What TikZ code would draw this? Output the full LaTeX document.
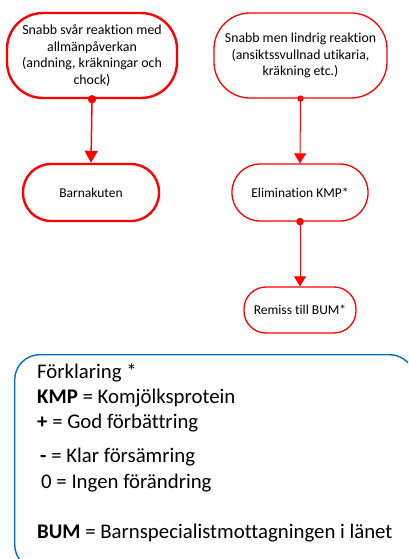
\documentclass[tikz,border=0pt]{standalone}
\usepackage{fontspec}
\setmainfont{Carlito}[Ligatures=NoCommon]
\usetikzlibrary{arrows.meta,positioning}

\definecolor{legendblue}{RGB}{0,112,192}

\tikzset{
  flowbox/.style={draw=red, rounded corners=#1, align=center, inner sep=2pt,
    font=\fontsize{13.5}{16.5}\selectfont},
  thickbox/.style={flowbox=#1, line width=2.4pt},
  thinbox/.style={flowbox=#1, line width=1.3pt},
  flowarrow/.style={draw=red, -{Triangle[width=13pt,length=12pt]}},
  legendframe/.style={draw=legendblue, line width=1.4pt, rounded corners=25pt,
    minimum width=400pt, minimum height=215pt, inner sep=0pt},
  legendtext/.style={align=left, inner sep=0pt, font=\fontsize{20.8}{25}\selectfont}
}

\begin{document}
\begin{tikzpicture}[x=1pt,y=-1pt]
  \useasboundingbox (0,0) rectangle (408,559);
  \clip (0,0) rectangle (408,559);

  % top row
  \node[thickbox=36pt, minimum width=170pt, minimum height=85pt,
        font=\fontsize{13.9}{16.5}\selectfont] (severe) at (92,55.5)
    {Snabb svår reaktion med\\allmänpåverkan\\(andning, kräkningar och\\chock)};
  \node[thinbox=36pt, minimum width=173pt, minimum height=85pt,
        font=\fontsize{13.8}{16.5}\selectfont] (mild) at (300.5,55.5)
    {Snabb men lindrig reaktion\\(ansiktssvullnad utikaria,\\kräkning etc.)};

  % second row
  \node[thickbox=28pt, minimum width=136pt, minimum height=57pt] (akut) at (91,192.5) {Barnakuten};
  \node[thinbox=28pt, minimum width=136pt, minimum height=57pt] (elim) at (300,192.5) {Elimination KMP*};

  % third row
  \node[thinbox=22pt, minimum width=112pt, minimum height=46pt] (remiss) at (300,310) {Remiss till BUM*};

  % connectors
  \draw[flowarrow, line width=1.5pt] (severe.south) -- (akut.north);
  \fill[red] (severe.south) circle (4.2pt);
  \draw[flowarrow, line width=1pt, -{Triangle[width=12pt,length=10pt]}] (mild.south) -- (elim.north);
  \fill[red] (mild.south) circle (3.2pt);
  \draw[flowarrow, line width=1pt, -{Triangle[width=12pt,length=10pt]}] (elim.south) -- (remiss.north);
  \fill[red] (elim.south) circle (3.8pt);

  % legend
  \node[legendframe, anchor=north west] (legend) at (14,354) {};
  \node[legendtext, anchor=north west] (legendtxt) at (37,364)
    {Förklaring *\\
     \textbf{KMP} = Komjölksprotein\\
     \textbf{+} = God förbättring\\[9pt]
     \hspace{3pt}\textbf{-} = Klar försämring\\[1pt]
     \hspace{4pt}0 = Ingen förändring\\[25pt]
     \textbf{BUM} = Barnspecialistmottagningen i länet};
\end{tikzpicture}
\end{document}
